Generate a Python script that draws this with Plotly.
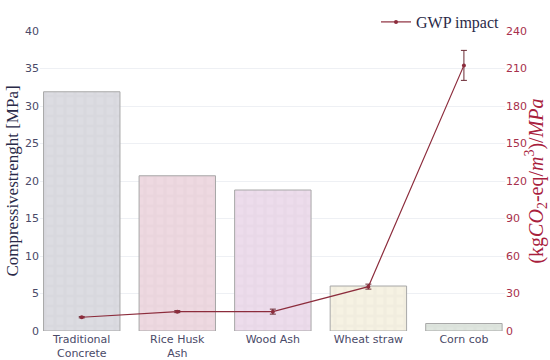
import plotly.graph_objects as go

categories = ["Traditional<br>Concrete", "Rice Husk<br>Ash", "Wood Ash", "Wheat straw", "Corn cob"]
strength = [31.9, 20.7, 18.8, 6.0, 1.0]
gwp = [11.0, 15.5, 15.5, 35.5, 212.5]
gwp_err = [0.5, 0.8, 2.0, 2.0, 12.0]
bar_colors = ["#dcdce2", "#eed9e1", "#eddcec", "#f6f2e3", "#dfe6df"]

fig = go.Figure()
fig.add_trace(go.Bar(
    x=categories, y=strength, showlegend=False,
    marker=dict(color=bar_colors, line=dict(color="#a8a8a8", width=1),
                pattern=dict(shape="+", fgcolor="#ffffff", fgopacity=0.03, size=10, solidity=0.5)),
    width=0.8,
))
fig.add_trace(go.Scatter(
    x=categories, y=gwp, yaxis="y2", name="GWP impact", mode="lines+markers",
    line=dict(color="#8c2c3c", width=1.2),
    marker=dict(color="#8c2c3c", size=4),
    error_y=dict(type="data", array=gwp_err, color="#6a2a34", thickness=1, width=3),
))

fig.update_layout(
    width=550, height=360,
    margin=dict(l=40, r=45, t=31, b=29, autoexpand=False),
    paper_bgcolor="white", plot_bgcolor="white",
    bargap=0.2,
    xaxis=dict(range=[-0.437, 4.43], showgrid=False, zeroline=False, automargin=False,
               tickfont=dict(family="DejaVu Sans", size=11, color="#4a4a68")),
    yaxis=dict(range=[0, 40], dtick=5, showgrid=True, gridcolor="#eef0f4", zeroline=False,
               automargin=False,
               tickfont=dict(family="DejaVu Sans", size=11, color="#4a4a68"),
               title=dict(text="Compressivestrenght [MPa]", standoff=2,
                          font=dict(family="Liberation Serif", size=17, color="#2a2a48"))),
    yaxis2=dict(range=[0, 240], dtick=30, overlaying="y", side="right", showgrid=False, zeroline=False,
                automargin=False,
                tickfont=dict(family="DejaVu Sans", size=11, color="#a8304c"),
                title=dict(text="(kg<i>CO</i><sub>2</sub>-eq/<i>m</i><sup>3</sup>)/<i>MPa</i>", standoff=4,
                           font=dict(family="Liberation Serif", size=20, color="#a8203c"))),
    legend=dict(x=1.0, y=1.03, xanchor="right", yanchor="middle", orientation="h",
                font=dict(family="Liberation Serif", size=16, color="#2a2a48"),
                itemwidth=30, bgcolor="rgba(0,0,0,0)"),
)

fig.write_html("out.html", config={"displayModeBar": False},
               post_script="document.body.style.margin='0';")
